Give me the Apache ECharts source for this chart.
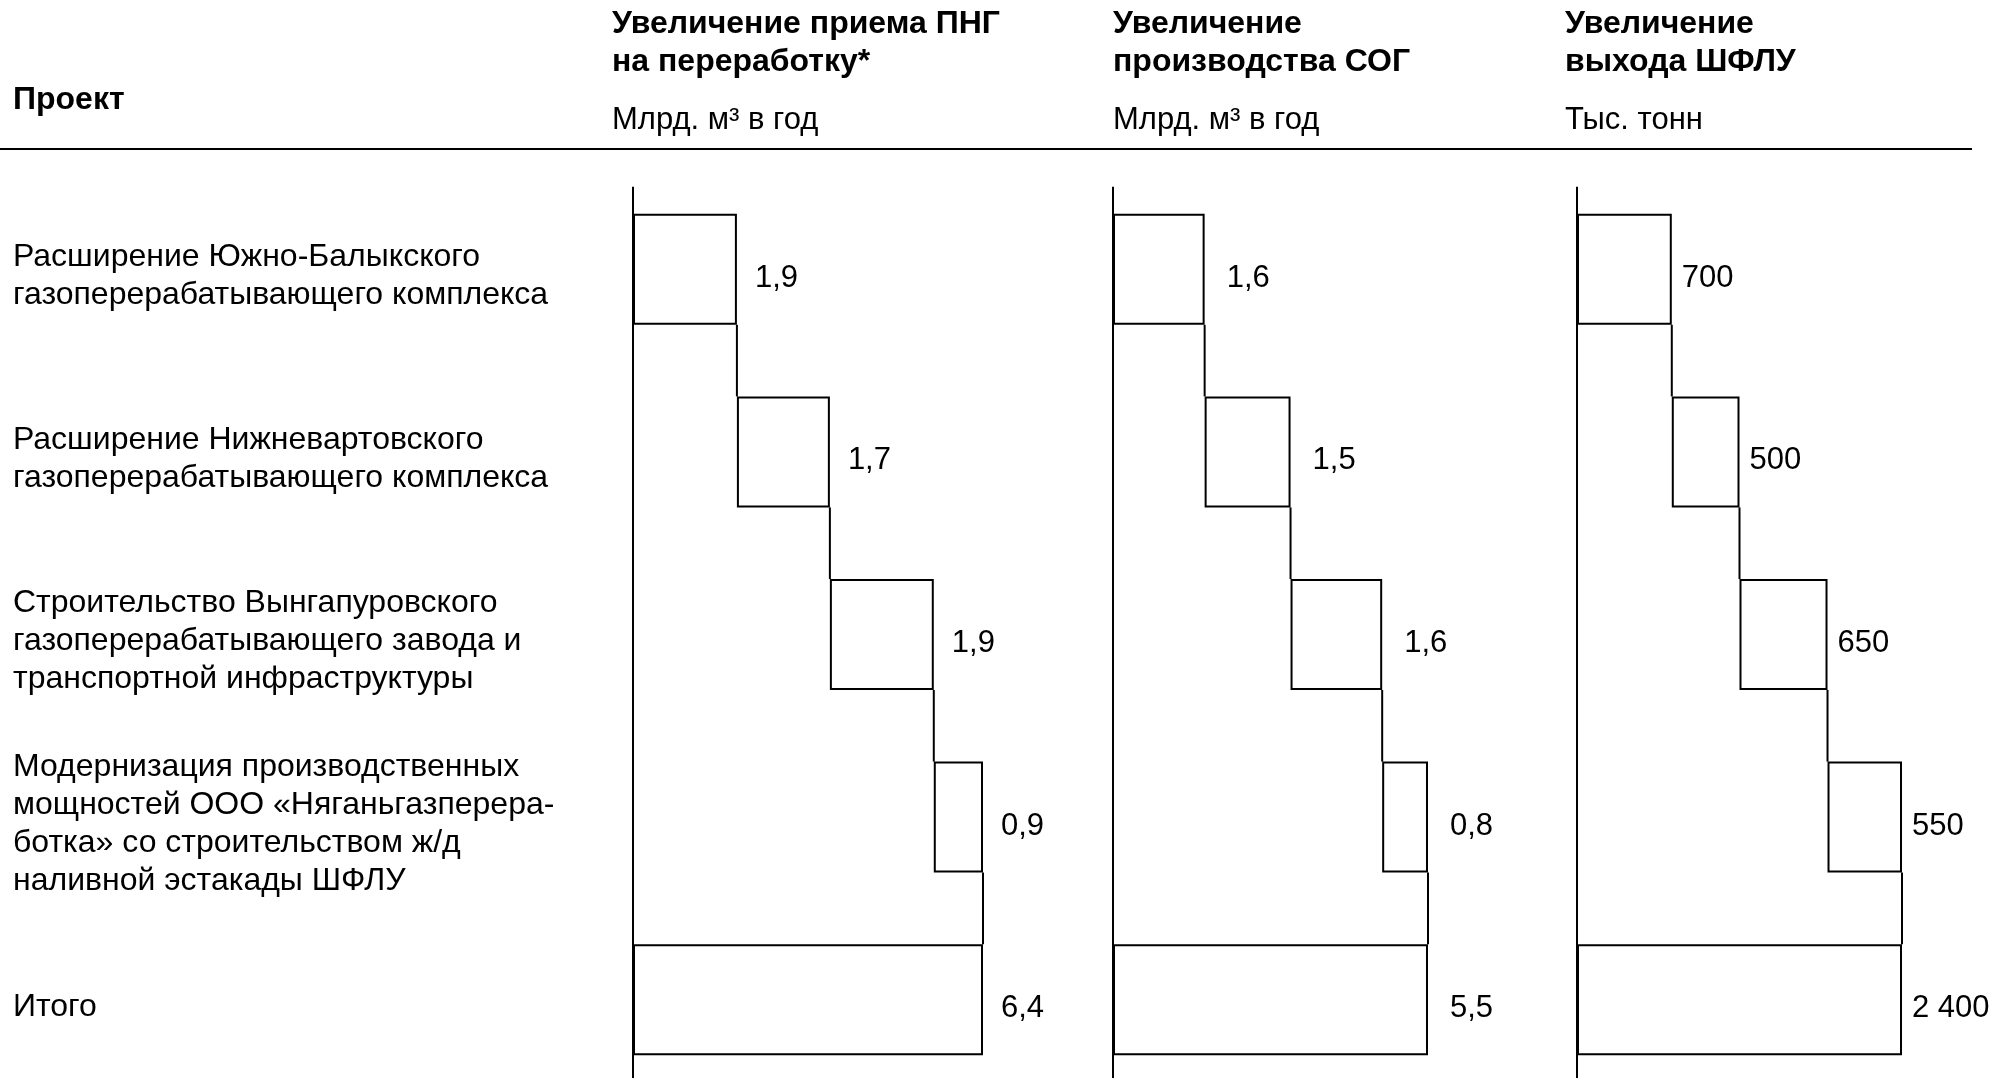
<!DOCTYPE html>
<html><head><meta charset="utf-8">
<script src="https://cdn.jsdelivr.net/npm/echarts@6/dist/echarts.min.js"></script>
<style>html,body{margin:0;padding:0;background:#fff}#c{width:1997px;height:1078px}</style>
</head><body><div id="c"></div>
<script>
// ---- data ----
const projectHeader = 'Проект';
const categories = [
  'Расширение Южно-Балыкского\nгазоперерабатывающего комплекса',
  'Расширение Нижневартовского\nгазоперерабатывающего комплекса',
  'Строительство Вынгапуровского\nгазоперерабатывающего завода и\nтранспортной инфраструктуры',
  'Модернизация производственных\nмощностей ООО «Няганьгазперера-\nботка» со строительством ж/д\nналивной эстакады ШФЛУ',
  'Итого'
];
const pngValues = [1.9, 1.7, 1.9, 0.9];
const pngTotal = 6.4;
const sogValues = [1.6, 1.5, 1.6, 0.8];
const sogTotal = 5.5;
const shfluValues = [700, 500, 650, 550];
const shfluTotal = 2400;
const headerTitles = [
  ['Увеличение приема ПНГ', 'на переработку*'],
  ['Увеличение', 'производства СОГ'],
  ['Увеличение', 'выхода ШФЛУ']
];
const headerUnits = ['Млрд. м³ в год', 'Млрд. м³ в год', 'Тыс. тонн'];

// ---- layout / style ----
const FONT = '"Liberation Sans", Arial, sans-serif';
const FS = 32;      // row labels, headers
const FS_VAL = 31;  // value labels
const FS_UNIT = 31;
const BAR_H = 111;
const GRID_TOP = 178, GRID_H = 913;
const LABEL_SHIFT = 7;  // row labels sit slightly below bar centres
const AXIS_ABOVE = 27;  // axis line starts this far above first bar
const fmtDec = v => v.toFixed(1).replace('.', ',');
const fmtInt = v => String(v).replace(/\B(?=(\d{3})+(?!\d))/g, ' ');
const panels = [
  { vals: pngValues, total: pngTotal, left: 633, width: 350, fmt: fmtDec, dist: 18, headerX: 612 },
  { vals: sogValues, total: sogTotal, left: 1113, width: 315, fmt: fmtDec, dist: 22, headerX: 1113 },
  { vals: shfluValues, total: shfluTotal, left: 1577, width: 325, fmt: fmtInt, dist: 10, headerX: 1565 }
];

const grid = [], xAxis = [], yAxis = [], series = [], graphic = [];
const txtStyle = (text, font) => ({ text, font, fill: '#000',
  align: 'left', verticalAlign: 'middle', textAlign: 'left', textVerticalAlign: 'middle' });

panels.forEach((p, k) => {
  grid.push({ left: p.left, top: GRID_TOP, width: p.width, height: GRID_H,
    containLabel: false, outerBoundsMode: 'none' });
  xAxis.push({ gridIndex: k, type: 'value', min: 0, max: p.total, show: false });
  yAxis.push({
    gridIndex: k, type: 'category', data: categories, inverse: true,
    axisLine: { show: false }, axisTick: { show: false }, splitLine: { show: false },
    axisLabel: { show: false }
  });
  const offsets = [];
  let acc = 0;
  p.vals.forEach(v => { offsets.push(acc); acc += v; });
  const cum = p.vals.map((v, i) => offsets[i] + v);
  series.push({
    type: 'bar', xAxisIndex: k, yAxisIndex: k, stack: 'w' + k, barWidth: BAR_H,
    itemStyle: { color: 'transparent', borderWidth: 0 }, emphasis: { disabled: true },
    silent: true, data: offsets.concat([0])
  });
  series.push({
    type: 'bar', xAxisIndex: k, yAxisIndex: k, stack: 'w' + k, barWidth: BAR_H,
    itemStyle: { color: '#fff', borderColor: '#000', borderWidth: 2 },
    label: {
      show: true, position: 'right', distance: p.dist, offset: [0, 9],
      fontFamily: FONT, fontSize: FS_VAL, color: '#000',
      formatter: prm => p.fmt(prm.value)
    },
    data: p.vals.concat([p.total])
  });
  // connectors between consecutive bars
  series.push({
    type: 'custom', xAxisIndex: k, yAxisIndex: k, clip: false, z: 5,
    encode: { x: 0, y: 1 },
    data: cum.map((c, i) => [c, i]),
    renderItem: (params, api) => {
      const x = api.value(0), i = api.value(1);
      const a = api.coord([x, i]);
      const b = api.coord([x, i + 1]);
      return {
        type: 'line',
        shape: { x1: a[0], y1: a[1] + BAR_H / 2, x2: b[0], y2: b[1] - BAR_H / 2 },
        style: { stroke: '#000', lineWidth: 2 }
      };
    }
  });
  // vertical base line (axis) at value 0
  series.push({
    type: 'custom', xAxisIndex: k, yAxisIndex: k, clip: false, z: 6,
    encode: { x: 0, y: 1 },
    data: [[0, 0]],
    renderItem: (params, api) => {
      const a = api.coord([api.value(0), api.value(1)]);
      return {
        type: 'line',
        shape: { x1: a[0], y1: a[1] - BAR_H / 2 - AXIS_ABOVE, x2: a[0], y2: api.getHeight() },
        style: { stroke: '#000', lineWidth: 2 }
      };
    }
  });
  headerTitles[k].forEach((t, j) => {
    graphic.push({ type: 'text', x: p.headerX, y: j === 0 ? 24 : 62,
      style: txtStyle(t, 'bold ' + FS + 'px ' + FONT) });
  });
  graphic.push({ type: 'text', x: p.headerX, y: 120,
    style: txtStyle(headerUnits[k], FS_UNIT + 'px ' + FONT) });
});

// label-only grid for the project names (same band layout, nudged down)
const LG = panels.length;
grid.push({ left: panels[0].left, top: GRID_TOP + LABEL_SHIFT, width: panels[0].width, height: GRID_H,
  containLabel: false, outerBoundsMode: 'none' });
xAxis.push({ gridIndex: LG, type: 'value', min: 0, max: pngTotal, show: false });
yAxis.push({
  gridIndex: LG, type: 'category', data: categories, inverse: true,
  axisLine: { show: false }, axisTick: { show: false }, splitLine: { show: false },
  axisLabel: {
    show: true, align: 'left', margin: panels[0].left - 13,
    fontFamily: FONT, fontSize: FS, lineHeight: 38, color: '#000'
  }
});

graphic.push({ type: 'text', x: 13, y: 100, style: txtStyle(projectHeader, 'bold ' + FS + 'px ' + FONT) });
graphic.push({ type: 'line', shape: { x1: 0, y1: 149, x2: 1972, y2: 149 },
  style: { stroke: '#000', lineWidth: 2 } });

const chart = echarts.init(document.getElementById('c'), null, { renderer: 'canvas' });
chart.setOption({
  backgroundColor: '#fff', animation: false,
  grid, xAxis, yAxis, series, graphic
});
</script>
</body></html>
